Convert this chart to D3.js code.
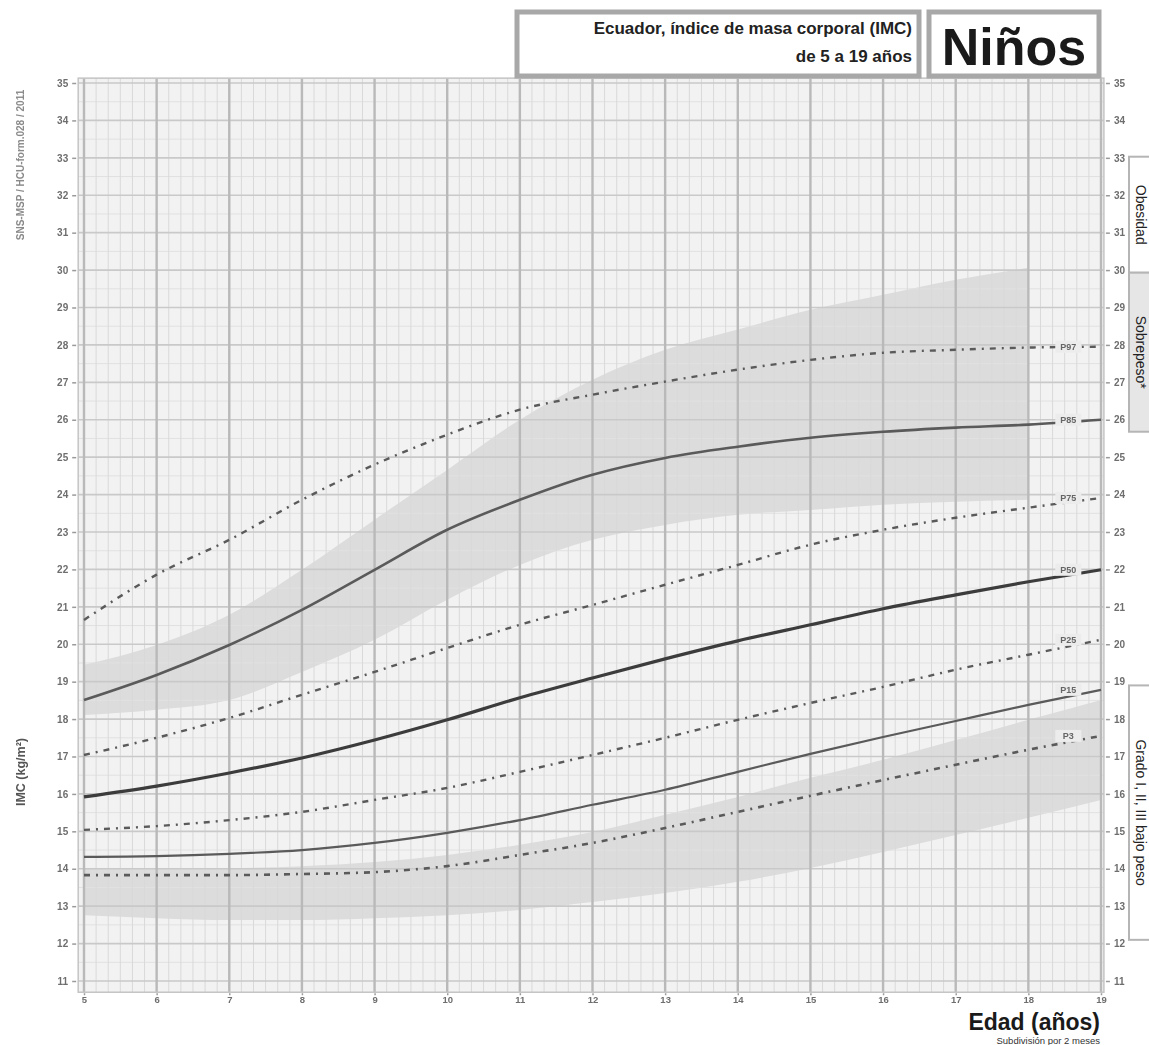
<!DOCTYPE html>
<html>
<head>
<meta charset="utf-8">
<script src="https://cdn.jsdelivr.net/npm/d3@7"></script>
<style>
  body { margin: 0; background: #fff; }
  svg { display: block; font-family: "Liberation Sans", Arial, Helvetica, sans-serif; }
</style>
</head>
<body>
<svg id="chart" width="1149" height="1045"></svg>
<script>
// Age in years (x axis)
const ages = [5, 6, 7, 8, 9, 10, 11, 12, 13, 14, 15, 16, 17, 18, 19];
// BMI ticks (y axis)
const bmiTicks = d3.range(11, 36);

// Reference curves, BMI by age
const curveP97 = [20.65, 21.86, 22.79, 23.86, 24.80, 25.60, 26.27, 26.67, 27.02, 27.34, 27.60, 27.79, 27.87, 27.93, 27.95];
const curveP85 = [18.51, 19.18, 19.98, 20.92, 21.99, 23.06, 23.86, 24.53, 24.98, 25.28, 25.52, 25.68, 25.79, 25.87, 26.00];
const curveP75 = [17.04, 17.50, 18.03, 18.65, 19.26, 19.90, 20.52, 21.05, 21.59, 22.12, 22.66, 23.06, 23.38, 23.65, 23.91];
const curveP50 = [15.92, 16.21, 16.56, 16.96, 17.44, 17.98, 18.57, 19.10, 19.61, 20.09, 20.52, 20.95, 21.32, 21.67, 21.99];
const curveP25 = [15.04, 15.14, 15.30, 15.52, 15.84, 16.16, 16.59, 17.04, 17.50, 17.98, 18.43, 18.86, 19.32, 19.72, 20.12];
const curveP15 = [14.32, 14.34, 14.40, 14.50, 14.69, 14.96, 15.30, 15.71, 16.11, 16.59, 17.07, 17.52, 17.95, 18.38, 18.78];
const curveP3  = [13.83, 13.83, 13.83, 13.86, 13.91, 14.07, 14.37, 14.69, 15.09, 15.52, 15.95, 16.37, 16.78, 17.18, 17.55];
const curveNames = ["P97", "P85", "P75", "P50", "P25", "P15", "P3"];

// Shaded ranges (ages 5-18 for the upper one, 5-19 for the lower one)
const upperBandAges = [5, 6, 7, 8, 9, 10, 11, 12, 13, 14, 15, 16, 17, 18];
const upperBandHigh = [19.45, 19.98, 20.79, 21.99, 23.33, 24.66, 26.00, 27.07, 27.87, 28.41, 28.94, 29.34, 29.74, 30.06];
const upperBandLow  = [18.11, 18.25, 18.51, 19.26, 20.12, 21.19, 22.12, 22.79, 23.19, 23.46, 23.59, 23.73, 23.81, 23.86];
const lowerBandHigh = [14.02, 14.02, 14.02, 14.07, 14.18, 14.37, 14.64, 14.98, 15.44, 15.92, 16.43, 16.91, 17.44, 17.98, 18.51];
const lowerBandLow  = [12.76, 12.68, 12.63, 12.63, 12.68, 12.76, 12.90, 13.11, 13.35, 13.65, 14.02, 14.45, 14.90, 15.36, 15.84];

// Nutritional-status categories, as BMI ranges on the right margin
const categoryNames = ["Obesidad", "Sobrepeso*", "Grado I, II, III bajo peso"];
const categoryTop = [33.03, 29.93, 18.9];
const categoryBottom = [29.93, 25.68, 12.1];

const svg = d3.select("#chart");

const x = d3.scaleLinear().domain([5, 19]).range([84, 1101]);
const y = d3.scaleLinear().domain([11, 35]).range([981, 83]);

const plotLeft = x(4.92), plotRight = x(19.04);
const plotTop = y(35.13), plotBottom = y(10.7);

// Plot background
svg.append("rect")
  .attr("x", plotLeft).attr("y", plotTop)
  .attr("width", plotRight - plotLeft).attr("height", plotBottom - plotTop)
  .attr("fill", "#f2f2f2");

// Shaded ranges
const bandArea = (hi, lo, xs) => d3.area()
  .x((d, i) => x(xs[i]))
  .y0((d, i) => y(lo[i]))
  .y1((d, i) => y(hi[i]))
  .curve(d3.curveMonotoneX)(hi);

svg.append("path").attr("d", bandArea(upperBandHigh, upperBandLow, upperBandAges))
  .attr("fill", "#dcdcdc");
svg.append("path").attr("d", bandArea(lowerBandHigh, lowerBandLow, ages))
  .attr("fill", "#dcdcdc");

// Grid: minor lines
const grid = svg.append("g");
grid.selectAll("line.hmin")
  .data(d3.range(11, 35.1, 0.5).filter(v => Math.abs(v - Math.round(v)) > 0.01))
  .join("line")
  .attr("x1", plotLeft).attr("x2", plotRight)
  .attr("y1", d => y(d)).attr("y2", d => y(d))
  .attr("stroke", "#e1e1e1").attr("stroke-width", 1);

grid.selectAll("line.vmin")
  .data(d3.range(5, 19.01, 1 / 6).filter(v => Math.abs(v - Math.round(v)) > 0.01))
  .join("line")
  .attr("x1", d => x(d)).attr("x2", d => x(d))
  .attr("y1", plotTop).attr("y2", plotBottom)
  .attr("stroke", "#d9d9d9").attr("stroke-width", 1);

// Grid: major lines
grid.selectAll("line.hmaj").data(bmiTicks).join("line")
  .attr("x1", plotLeft).attr("x2", plotRight)
  .attr("y1", d => y(d)).attr("y2", d => y(d))
  .attr("stroke", "#c9c9c9").attr("stroke-width", 1.6);

grid.selectAll("line.vmaj").data(ages).join("line")
  .attr("x1", d => x(d)).attr("x2", d => x(d))
  .attr("y1", plotTop).attr("y2", plotBottom)
  .attr("stroke", "#b9b9b9").attr("stroke-width", 2.4);

// Frame
svg.append("rect")
  .attr("x", plotLeft).attr("y", plotTop)
  .attr("width", plotRight - plotLeft).attr("height", plotBottom - plotTop)
  .attr("fill", "none").attr("stroke", "#c4c4c4").attr("stroke-width", 1.5);

// Axes
const soft = svg.append("defs").append("filter").attr("id", "soft");
soft.append("feGaussianBlur").attr("stdDeviation", 0.6);

const axisLeft = d3.axisLeft(y).tickValues(bmiTicks).tickSize(4).tickPadding(4).tickFormat(d3.format("d"));
const axisRight = d3.axisRight(y).tickValues(bmiTicks).tickSize(4).tickPadding(4).tickFormat(d3.format("d"));
const axisBottom = d3.axisBottom(x).tickValues(ages).tickSize(2).tickPadding(1).tickFormat(d3.format("d"));

function styleAxis(g) {
  g.select(".domain").remove();
  g.selectAll("line").attr("stroke", "#9a9a9a").attr("stroke-width", 1.5);
  g.selectAll("text").attr("fill", "#6e6e6e").attr("font-size", 10).attr("font-weight", "bold");
  g.attr("filter", "url(#soft)");
}
svg.append("g").attr("transform", `translate(${plotLeft - 2},0)`).call(axisLeft).call(styleAxis);
svg.append("g").attr("transform", `translate(${plotRight + 2},0)`).call(axisRight).call(styleAxis);
svg.append("g").attr("transform", `translate(0,${plotBottom + 1})`).call(axisBottom).call(styleAxis)
  .selectAll("text").attr("font-size", 9.5);

// Curves
const curves = [curveP97, curveP85, curveP75, curveP50, curveP25, curveP15, curveP3];
const dashed = [true, false, true, false, true, false, true];
const widths = [2.4, 2.6, 2.4, 3.2, 2.4, 2.2, 2.6];
const line = d3.line().x((d, i) => x(ages[i])).y(d => y(d)).curve(d3.curveMonotoneX);

svg.append("g").selectAll("path").data(curves).join("path")
  .attr("d", d => line(d))
  .attr("fill", "none")
  .attr("stroke", (d, i) => i === 3 ? "#3c3c3c" : "#5a5a5a")
  .attr("stroke-width", (d, i) => widths[i])
  .attr("stroke-dasharray", (d, i) => dashed[i] ? "6,6,2,6" : null)
  .attr("stroke-linecap", "butt");

// Curve labels near the right edge
const labels = svg.append("g").selectAll("g").data(curves).join("g")
  .attr("transform", d => `translate(${x(18.55)},${y(d[d.length - 1])})`);
labels.append("rect")
  .attr("x", -13).attr("y", -6).attr("width", 26).attr("height", 12)
  .attr("fill", "#ececec");
labels.append("text")
  .attr("text-anchor", "middle").attr("dy", "0.35em")
  .attr("font-size", 9).attr("font-weight", "bold").attr("fill", "#666")
  .attr("filter", "url(#soft)")
  .text((d, i) => curveNames[i]);

// Category boxes on the right
const catFill = ["#ffffff", "#e6e6e6", "#ffffff"];
const catG = svg.append("g").selectAll("g").data(categoryNames).join("g");
catG.append("rect")
  .attr("x", 1129).attr("y", (d, i) => y(categoryTop[i]))
  .attr("width", 30).attr("height", (d, i) => y(categoryBottom[i]) - y(categoryTop[i]))
  .attr("fill", (d, i) => catFill[i]).attr("stroke", "#b5b5b5").attr("stroke-width", 2);
catG.append("text")
  .attr("transform", (d, i) => `translate(1136,${(y(categoryTop[i]) + y(categoryBottom[i])) / 2}) rotate(90)`)
  .attr("text-anchor", "middle")
  .attr("font-size", 14).attr("fill", "#222")
  .text(d => d);

// Title boxes
const titleG = svg.append("g");
titleG.append("rect").attr("x", 517).attr("y", 12).attr("width", 402).attr("height", 64)
  .attr("fill", "#fff").attr("stroke", "#a8a8a8").attr("stroke-width", 5);
titleG.append("rect").attr("x", 929).attr("y", 12).attr("width", 170).attr("height", 64)
  .attr("fill", "#fff").attr("stroke", "#a8a8a8").attr("stroke-width", 5);
titleG.append("text").attr("x", 912).attr("y", 34).attr("text-anchor", "end")
  .attr("font-size", 17).attr("font-weight", "bold").attr("fill", "#222")
  .text("Ecuador, índice de masa corporal (IMC)");
titleG.append("text").attr("x", 912).attr("y", 62).attr("text-anchor", "end")
  .attr("font-size", 17).attr("font-weight", "bold").attr("fill", "#222")
  .text("de 5 a 19 años");
titleG.append("text").attr("x", 1014).attr("y", 65).attr("text-anchor", "middle")
  .attr("font-size", 52).attr("font-weight", "bold").attr("fill", "#1a1a1a")
  .text("Niños");

// Axis titles
svg.append("text").attr("x", 1100).attr("y", 1030).attr("text-anchor", "end")
  .attr("font-size", 23).attr("font-weight", "bold").attr("fill", "#1a1a1a")
  .text("Edad (años)");
svg.append("text").attr("x", 1100).attr("y", 1044).attr("text-anchor", "end")
  .attr("font-size", 9.5).attr("fill", "#333")
  .text("Subdivisión por 2 meses");

svg.append("text")
  .attr("transform", "translate(25,772) rotate(-90)")
  .attr("text-anchor", "middle")
  .attr("font-size", 12.5).attr("font-weight", "bold").attr("fill", "#555")
  .attr("filter", "url(#soft)")
  .text("IMC  (kg/m²)");

svg.append("text")
  .attr("transform", "translate(24,165) rotate(-90)")
  .attr("text-anchor", "middle")
  .attr("font-size", 10).attr("font-weight", "bold").attr("fill", "#8a8a8a")
  .attr("filter", "url(#soft)")
  .text("SNS-MSP / HCU-form.028 / 2011");
</script>
</body>
</html>
